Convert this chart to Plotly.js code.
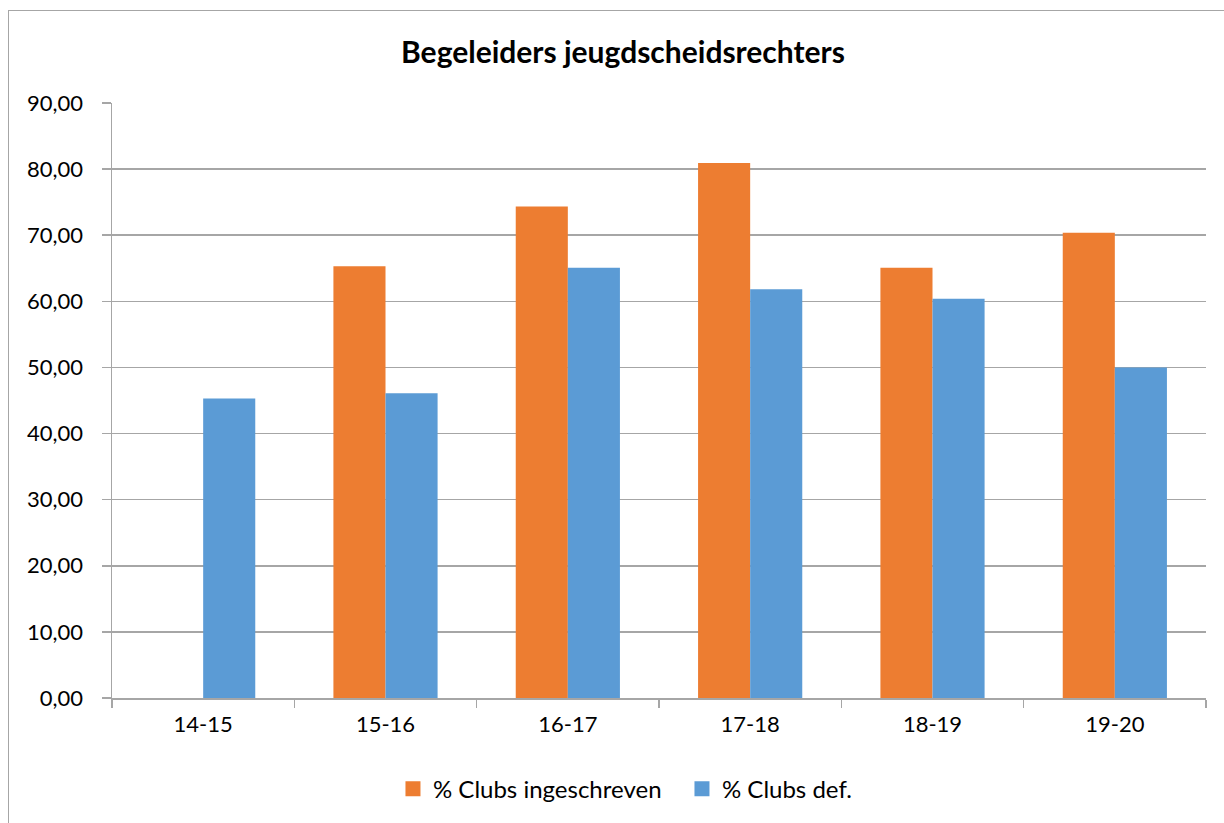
<!DOCTYPE html>
<html>
<head>
<meta charset="utf-8">
<script src="https://cdn.plot.ly/plotly-3.0.1.min.js"></script>
<style>
  body { margin: 0; background: #fff; overflow: hidden; }
  #chart { width: 1224px; height: 823px; position: absolute; left: 0; top: 0; }
  #frame { position: absolute; left: 8px; top: 10px; width: 1400px; height: 1000px; border: 1px solid #a6a6a6; pointer-events: none; }
</style>
</head>
<body>
<div id="chart"></div>
<div id="frame"></div>
<script>
const categories = ["14-15", "15-16", "16-17", "17-18", "18-19", "19-20"];
const seriesNames = ["% Clubs ingeschreven", "% Clubs def."];
const ingeschreven = [null, 65.32, 74.33, 80.93, 65.07, 70.36];
const definitief = [45.29, 46.09, 65.07, 61.84, 60.39, 50.00];
const titleText = "Begeleiders jeugdscheidsrechters";
const colors = ["#ED7D31", "#5B9BD5"];

const font = "Lato, 'Open Sans', sans-serif";
const gridColor = "#a6a6a6";

const traces = [
  { type: "bar", name: seriesNames[0], x: categories, y: ingeschreven,
    marker: { color: colors[0] }, showlegend: false, hoverinfo: "x+y" },
  { type: "bar", name: seriesNames[1], x: categories, y: definitief,
    marker: { color: colors[1] }, showlegend: false, hoverinfo: "x+y" },
  // legend entries (square swatches like the original)
  { type: "scatter", mode: "markers", name: seriesNames[0], x: [null], y: [null],
    marker: { color: colors[0], symbol: "square", size: 15 }, showlegend: true },
  { type: "scatter", mode: "markers", name: seriesNames[1], x: [null], y: [null],
    marker: { color: colors[1], symbol: "square", size: 15 }, showlegend: true }
];

const layout = {
  width: 1224, height: 823,
  margin: { l: 112, r: 18, t: 103, b: 125 },
  paper_bgcolor: "rgba(0,0,0,0)",
  plot_bgcolor: "#fff",
  separators: ", ",
  font: { family: font, size: 22, color: "#000" },
  title: { text: "<b>" + titleText + "</b>", x: 623/1224, xref: "container", xanchor: "center",
           y: 1 - 52/823, yref: "container", yanchor: "middle", font: { family: font, size: 30, color: "#000" } },
  barmode: "group",
  bargap: 0.4286,
  bargroupgap: 0,
  showlegend: true,
  legend: { orientation: "h", x: 0.521, xanchor: "center", y: -0.153, yanchor: "middle",
            font: { family: font, size: 24, color: "#000" }, traceorder: "normal", itemwidth: 30,
            entrywidth: 244, entrywidthmode: "pixels" },
  xaxis: {
    type: "category", showgrid: false, showline: true, linecolor: gridColor, linewidth: 1.5,
    ticks: "outside", tickson: "boundaries", ticklen: 8, tickcolor: gridColor, tickwidth: 1.5,
    tickfont: { family: font, size: 22, color: "#000" }, ticklabelstandoff: 6, fixedrange: true
  },
  yaxis: {
    range: [0, 90], dtick: 10, tick0: 0, tickformat: ".2f",
    showgrid: true, gridcolor: gridColor, gridwidth: 1.5, zeroline: false,
    showline: true, linecolor: gridColor, linewidth: 1.5,
    ticks: "outside", ticklen: 9, tickcolor: gridColor, tickwidth: 1.5,
    tickfont: { family: font, size: 22, color: "#000" }, ticklabelstandoff: 14, fixedrange: true
  }
};

Plotly.newPlot("chart", traces, layout, { displayModeBar: false, staticPlot: true });
</script>
</body>
</html>
